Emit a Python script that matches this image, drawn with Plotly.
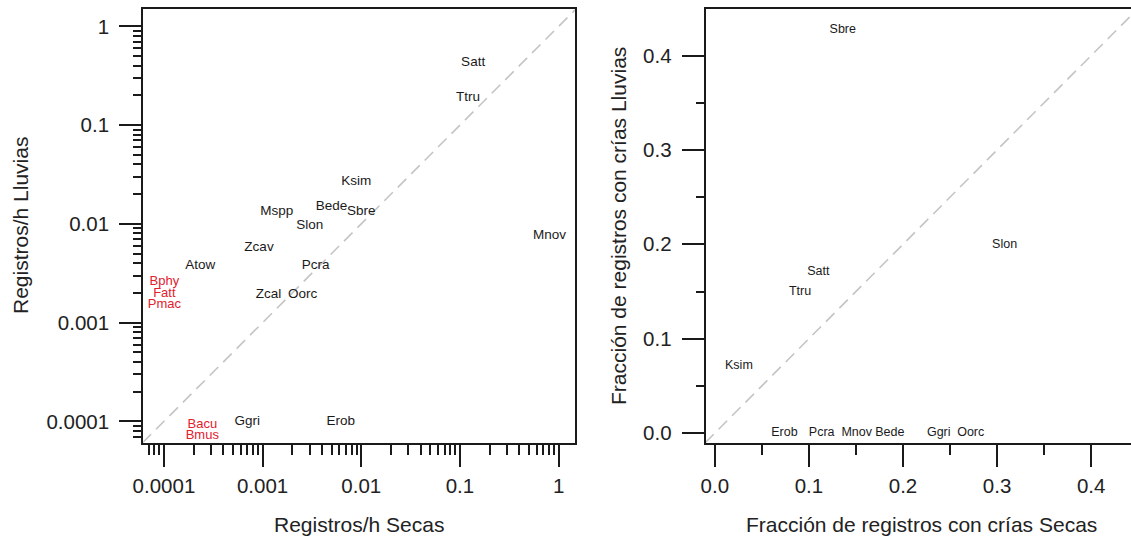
import numpy as np
import plotly.graph_objects as go

# ---------------- data ----------------
# Left panel: records per hour, dry season (Secas) vs rainy season (Lluvias)
left_labels = ["Satt", "Ttru", "Ksim", "Bede", "Sbre", "Mspp", "Slon", "Mnov",
               "Zcav", "Atow", "Pcra", "Zcal", "Oorc", "Ggri", "Erob"]
left_secas = [0.136, 0.121, 0.0089, 0.0050, 0.0100, 0.00139, 0.0030, 0.807,
              0.00092, 0.000233, 0.00344, 0.00115, 0.00255, 0.00070, 0.00621]
left_lluvias = [0.432, 0.189, 0.0266, 0.0150, 0.0133, 0.0133, 0.0095, 0.0076,
                0.00573, 0.00381, 0.00381, 0.00193, 0.00193, 0.0001, 0.0001]

# species with records in only one season (shown in red)
red_labels = ["Bphy", "Fatt", "Pmac", "Bacu", "Bmus"]
red_secas = [0.000101, 0.000101, 0.000101, 0.000245, 0.000245]
red_lluvias = [0.00258, 0.00196, 0.00152, 0.000093, 0.0000720]

# Right panel: fraction of records with calves
right_labels = ["Sbre", "Slon", "Satt", "Ttru", "Ksim", "Erob", "Pcra", "Mnov",
                "Bede", "Ggri", "Oorc"]
right_secas = [0.136, 0.308, 0.110, 0.0906, 0.0256, 0.074, 0.1136, 0.1508,
               0.186, 0.238, 0.272]
right_lluvias = [0.427, 0.199, 0.171, 0.150, 0.0709, 0, 0, 0, 0, 0, 0]

log_ticks = [0.0001, 0.001, 0.01, 0.1, 1]
log_tick_text = ["0.0001", "0.001", "0.01", "0.1", "1"]
lin_ticks = [0.0, 0.1, 0.2, 0.3, 0.4]
lin_tick_text = ["0.0", "0.1", "0.2", "0.3", "0.4"]

# ---------------- styling ----------------
FONT = "Liberation Sans, Arial, Helvetica, sans-serif"
AX = "#1a1a1a"
TXT = "#1a1a1a"
RED = "#e4202e"
W, H = 1131, 538

# plot-box geometry (px)
L_x0, L_x1 = 143.2, 575.3
R_x0, R_x1 = 705.7, 1131.0
Y_top, Y_bot = 9.3, 442.7

L_xrange = [-4.210, 0.169]
L_yrange = [-4.216, 0.173]
R_xrange = [-0.0097, 0.4423]
R_yrange = [-0.0102, 0.449]

minor_log = [m * 10.0 ** e for e in range(-5, 1) for m in range(2, 10)]

fig = go.Figure()

# diagonal reference lines (y = x) spanning the axes
lo = 10 ** min(L_xrange[0], L_yrange[0])
hi = 10 ** max(L_xrange[1], L_yrange[1])
fig.add_trace(go.Scatter(x=[lo, hi], y=[lo, hi], mode="lines",
                         line=dict(color="#c4c4c4", width=1.6, dash="12px,7px"),
                         xaxis="x", yaxis="y", hoverinfo="skip", showlegend=False))
rlo = min(R_xrange[0], R_yrange[0])
rhi = max(R_xrange[1], R_yrange[1])
fig.add_trace(go.Scatter(x=[rlo, rhi], y=[rlo, rhi], mode="lines",
                         line=dict(color="#c4c4c4", width=1.6, dash="12px,7px"),
                         xaxis="x2", yaxis="y2", hoverinfo="skip", showlegend=False))

fig.add_trace(go.Scatter(x=left_secas, y=left_lluvias, text=left_labels, mode="text",
                         textposition="middle center",
                         textfont=dict(family=FONT, size=13.5, color=TXT),
                         xaxis="x", yaxis="y", showlegend=False))
fig.add_trace(go.Scatter(x=red_secas, y=red_lluvias, text=red_labels, mode="text",
                         textposition="middle center",
                         textfont=dict(family=FONT, size=13, color=RED),
                         xaxis="x", yaxis="y", showlegend=False))
fig.add_trace(go.Scatter(x=right_secas, y=right_lluvias, text=right_labels, mode="text",
                         textposition="middle center",
                         textfont=dict(family=FONT, size=12.5, color=TXT),
                         xaxis="x2", yaxis="y2", showlegend=False))

common = dict(showline=True, linecolor=AX, linewidth=2, ticks="outside", ticklen=22,
              tickwidth=2, tickcolor=AX, showgrid=False, zeroline=False,
              automargin=False, tickfont=dict(family=FONT, size=20.5, color="#222222"))

TF = dict(family=FONT, size=21, color="#222222")

fig.update_layout(
    width=W, height=H,
    margin=dict(l=0, r=0, t=0, b=0),
    paper_bgcolor="white", plot_bgcolor="white",
    xaxis=dict(type="log", range=L_xrange, domain=[L_x0 / W, L_x1 / W], anchor="y",
               mirror=True, tickvals=log_ticks, ticktext=log_tick_text,
               ticklabelstandoff=2,
               minor=dict(ticks="outside", ticklen=10, tickwidth=2, tickcolor=AX,
                          tickvals=minor_log, showgrid=False), **common),
    yaxis=dict(type="log", range=L_yrange, domain=[1 - Y_bot / H, 1 - Y_top / H], anchor="x",
               mirror=True, tickvals=log_ticks, ticktext=log_tick_text,
               ticklabelstandoff=6,
               minor=dict(ticks="outside", ticklen=8, tickwidth=2, tickcolor=AX,
                          tickvals=minor_log, showgrid=False), **common),
    xaxis2=dict(range=R_xrange, domain=[R_x0 / W, R_x1 / W], anchor="y2",
                mirror=True, tickvals=lin_ticks, ticktext=lin_tick_text,
                ticklabelstandoff=2,
                minor=dict(ticks="outside", ticklen=10, tickwidth=2, tickcolor=AX,
                           dtick=0.05, tick0=0, showgrid=False), **common),
    yaxis2=dict(range=R_yrange, domain=[1 - Y_bot / H, 1 - Y_top / H], anchor="x2",
                mirror=False, tickvals=lin_ticks, ticktext=lin_tick_text,
                ticklabelstandoff=6,
                minor=dict(ticks="outside", ticklen=8, tickwidth=2, tickcolor=AX,
                           dtick=0.05, tick0=0, showgrid=False), **common),
    annotations=[
        dict(text="Registros/h Secas", xref="paper", yref="paper",
             x=(L_x0 + L_x1) / 2 / W, y=1 - 524 / H, showarrow=False,
             font=TF, xanchor="center", yanchor="middle"),
        dict(text="Registros/h Lluvias", xref="paper", yref="paper",
             x=20 / W, y=1 - (Y_top + Y_bot) / 2 / H, showarrow=False, textangle=-90,
             font=TF, xanchor="center", yanchor="middle"),
        dict(text="Fracción de registros con crías Secas", xref="paper", yref="paper",
             x=921 / W, y=1 - 524 / H, showarrow=False,
             font=TF, xanchor="center", yanchor="middle"),
        dict(text="Fracción de registros con crías Lluvias", xref="paper", yref="paper",
             x=618 / W, y=1 - (Y_top + Y_bot) / 2 / H, showarrow=False, textangle=-90,
             font=TF, xanchor="center", yanchor="middle"),
    ],
)

fig.write_html("out.html")
